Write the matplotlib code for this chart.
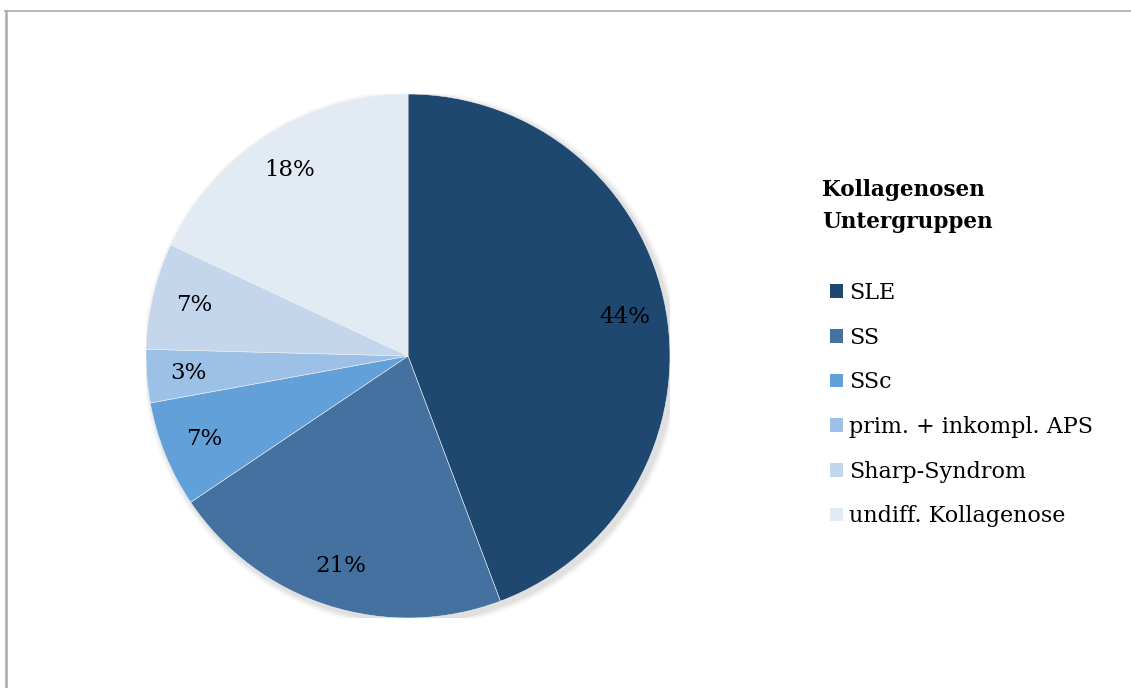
import matplotlib.pyplot as plt
from matplotlib.lines import Line2D
from matplotlib.patches import Patch, Circle

plt.rcParams['font.family'] = ['DejaVu Serif']

labels = ['SLE', 'SS', 'SSc', 'prim. + inkompl. APS', 'Sharp-Syndrom', 'undiff. Kollagenose']
counts = [27, 13, 4, 2, 4, 11]
colors = ['#1f4870', '#44719f', '#62a0da', '#9dc0e7', '#c3d6eb', '#e2eaf4']
legend_title = 'Kollagenosen\nUntergruppen'

W, H = 1131, 688
fig = plt.figure(figsize=(W / 100, H / 100), dpi=100)

# pie axes: centre (408, 356), radius 262 px
cx, cy, r = 408, 356, 262
ax = fig.add_axes([(cx - r) / W, (H - cy - r) / H, 2 * r / W, 2 * r / H])

# faint shadow behind the pie
for i, a in enumerate([0.05, 0.04, 0.03]):
    ax.add_patch(Circle((0.012, -0.012), 1 + 0.008 * (i + 1), color='black',
                        alpha=a, lw=0, zorder=0))

wedges, texts, autotexts = ax.pie(
    counts, colors=colors, startangle=90, counterclock=False,
    autopct='%1.0f%%', pctdistance=0.84, radius=1,
    wedgeprops=dict(linewidth=0.4, edgecolor='#f0f0f0'),
    textprops=dict(fontsize=16.5, color='black'))
ax.set_xlim(-1, 1)
ax.set_ylim(-1, 1)
ax.set_aspect('equal')

fig.text(822 / W, 1 - 206 / H, legend_title, fontsize=15.5, fontweight='bold',
         va='center', ha='left', linespacing=1.6)

handles = [Patch(facecolor=c, edgecolor='none') for c in colors]
fig.legend(handles, labels, loc='upper left', bbox_to_anchor=(830 / W, 1 - 282 / H),
           frameon=False, fontsize=16, handlelength=0.57, handleheight=0.57,
           handletextpad=0.3, labelspacing=1.02, borderpad=0, borderaxespad=0)

# grey frame lines (top and left)
fig.add_artist(Line2D([5 / W, 1], [1 - 11 / H, 1 - 11 / H], color='#aaaaaa', lw=1.2,
                      transform=fig.transFigure))
fig.add_artist(Line2D([6 / W, 6 / W], [0, 1 - 11 / H], color='#aaaaaa', lw=1.8,
                      transform=fig.transFigure))

fig.savefig('out.png', dpi=100)
